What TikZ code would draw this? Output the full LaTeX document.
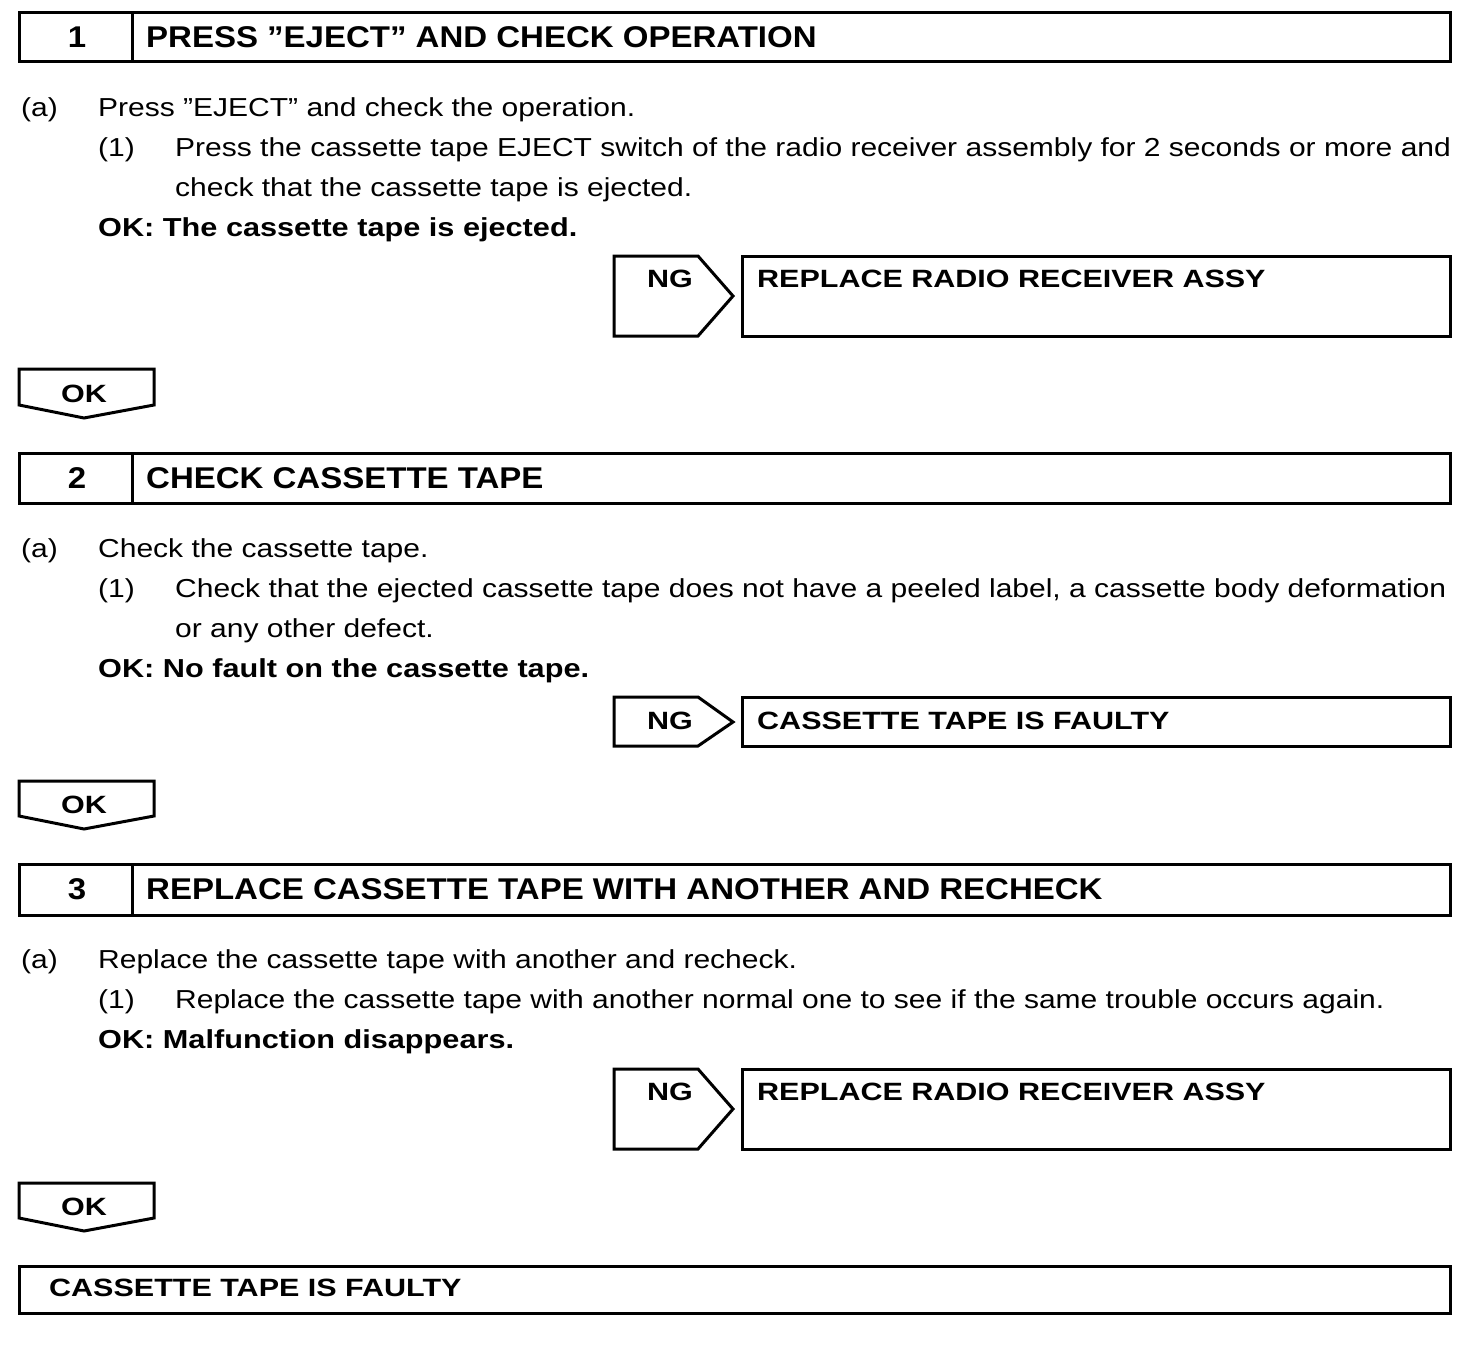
\documentclass[tikz,border=0pt]{standalone}
\usepackage{fontspec}
\setmainfont{Liberation Sans}
\newfontfamily\bodyf[FakeStretch=1.154]{Liberation Sans}
\newfontfamily\okf[FakeStretch=1.18]{Liberation Sans}
\newfontfamily\boldf[FakeStretch=1.22]{Liberation Sans}
\newfontfamily\headf[FakeStretch=1.10]{Liberation Sans}
\begin{document}
\begin{tikzpicture}[x=1pt,y=-1pt,
  frame/.style={draw=black,line width=3pt,line join=miter},
  body/.style={anchor=base west,inner sep=0pt,font=\bodyf\fontsize{26}{30}\selectfont},
  bodybf/.style={anchor=base west,inner sep=0pt,font=\okf\fontsize{26}{30}\selectfont\bfseries},
  head/.style={anchor=base west,inner sep=0pt,font=\headf\fontsize{30}{34}\selectfont\bfseries},
  headnum/.style={anchor=base,inner sep=0pt,font=\headf\fontsize{30}{34}\selectfont\bfseries},
  tag/.style={anchor=base,inner sep=0pt,font=\boldf\fontsize{25}{29}\selectfont\bfseries},
  res/.style={anchor=base west,inner sep=0pt,font=\boldf\fontsize{25}{29}\selectfont\bfseries}]
\useasboundingbox[fill=white] (0,0) rectangle (1472,1344);

% ---------- Step 1 ----------
\draw[frame] (19,12) rectangle (1450,61);
\draw[frame] (132,12) -- (132,61);
\node[headnum] (n1) at (77,47) {1};
\node[head] (h1) at (146,47) {PRESS ”EJECT” AND CHECK OPERATION};
\node[body] (a1) at (21,116) {(a)};
\node[body] (a1t) at (98,116) {Press ”EJECT” and check the operation.};
\node[body] (s1) at (98,156) {(1)};
\node[body] (s1t) at (175,156) {Press the cassette tape EJECT switch of the radio receiver assembly for 2 seconds or more and};
\node[body] (s1u) at (175,196) {check that the cassette tape is ejected.};
\node[bodybf] (ok1t) at (98,236) {OK: The cassette tape is ejected.};
\draw[frame] (614,256) -- (698,256) -- (733,296) -- (698,336) -- (614,336) -- cycle;
\node[tag] (ng1) at (670,287) {NG};
\draw[frame] (742,256) rectangle (1450,336);
\node[res] (r1) at (757,287) {REPLACE RADIO RECEIVER ASSY};
\draw[frame] (19,369) -- (154,369) -- (154,405) -- (84,418) -- (19,405) -- cycle;
\node[tag] (ok1) at (84,402) {OK};

% ---------- Step 2 ----------
\draw[frame] (19,453) rectangle (1450,503);
\draw[frame] (132,453) -- (132,503);
\node[headnum] (n2) at (77,488) {2};
\node[head] (h2) at (146,488) {CHECK CASSETTE TAPE};
\node[body] (a2) at (21,557) {(a)};
\node[body] (a2t) at (98,557) {Check the cassette tape.};
\node[body] (s2) at (98,597) {(1)};
\node[body] (s2t) at (175,597) {Check that the ejected cassette tape does not have a peeled label, a cassette body deformation};
\node[body] (s2u) at (175,637) {or any other defect.};
\node[bodybf] (ok2t) at (98,677) {OK: No fault on the cassette tape.};
\draw[frame] (614,697) -- (698,697) -- (733,722) -- (698,746) -- (614,746) -- cycle;
\node[tag] (ng2) at (670,729) {NG};
\draw[frame] (742,697) rectangle (1450,746);
\node[res] (r2) at (757,729) {CASSETTE TAPE IS FAULTY};
\draw[frame] (19,781) -- (154,781) -- (154,816) -- (84,829) -- (19,816) -- cycle;
\node[tag] (ok2) at (84,813) {OK};

% ---------- Step 3 ----------
\draw[frame] (19,864) rectangle (1450,915);
\draw[frame] (132,864) -- (132,915);
\node[headnum] (n3) at (77,899) {3};
\node[head] (h3) at (146,899) {REPLACE CASSETTE TAPE WITH ANOTHER AND RECHECK};
\node[body] (a3) at (21,968) {(a)};
\node[body] (a3t) at (98,968) {Replace the cassette tape with another and recheck.};
\node[body] (s3) at (98,1008) {(1)};
\node[body] (s3t) at (175,1008) {Replace the cassette tape with another normal one to see if the same trouble occurs again.};
\node[bodybf] (ok3t) at (98,1048) {OK: Malfunction disappears.};
\draw[frame] (614,1069) -- (698,1069) -- (733,1109) -- (698,1149) -- (614,1149) -- cycle;
\node[tag] (ng3) at (670,1100) {NG};
\draw[frame] (742,1069) rectangle (1450,1149);
\node[res] (r3) at (757,1100) {REPLACE RADIO RECEIVER ASSY};
\draw[frame] (19,1183) -- (154,1183) -- (154,1218) -- (84,1231) -- (19,1218) -- cycle;
\node[tag] (ok3) at (84,1215) {OK};

% ---------- Final ----------
\draw[frame] (19,1266) rectangle (1450,1313);
\node[res] (fin) at (49,1296) {CASSETTE TAPE IS FAULTY};
\end{tikzpicture}
\end{document}
